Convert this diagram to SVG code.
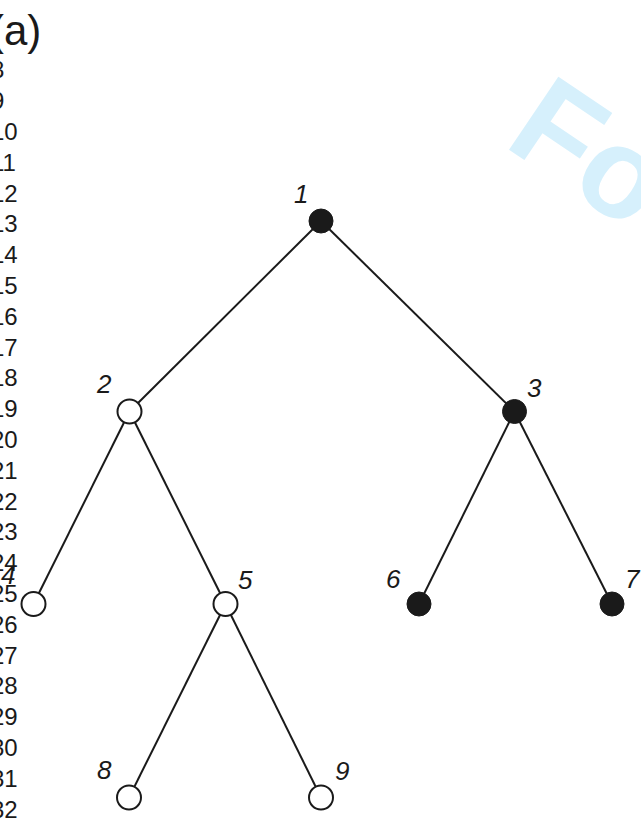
<svg xmlns="http://www.w3.org/2000/svg" width="641" height="819" viewBox="0 0 641 819">
<style>
.ln{font-family:"Liberation Sans",Arial,sans-serif;font-size:24px;fill:#1a1a1a}
.lbl{font-family:"Liberation Sans",Arial,sans-serif;font-size:26px;font-style:italic;fill:#1a1a1a}
.edge{stroke:#1a1a1a;stroke-width:2;fill:none}
.open{fill:#fff;stroke:#1a1a1a;stroke-width:2}
.fill{fill:#1a1a1a;stroke:#1a1a1a;stroke-width:1}
</style>
<rect width="641" height="819" fill="#fff"/>
<text x="502" y="145" transform="rotate(34 502 145)" font-family="Liberation Sans,Arial,sans-serif" font-weight="bold" font-size="128" fill="#d6f0fc">Fo</text>
<g id="line-numbers" class="ln">
<text x="-9" y="78">8</text>
<text x="-9" y="109">9</text>
<text x="-9" y="140">10</text>
<text x="-9" y="171">11</text>
<text x="-9" y="202">12</text>
<text x="-9" y="232">13</text>
<text x="-9" y="263">14</text>
<text x="-9" y="294">15</text>
<text x="-9" y="325">16</text>
<text x="-9" y="356">17</text>
<text x="-9" y="386">18</text>
<text x="-9" y="417">19</text>
<text x="-9" y="448">20</text>
<text x="-9" y="479">21</text>
<text x="-9" y="510">22</text>
<text x="-9" y="540">23</text>
<text x="-9" y="571">24</text>
<text x="-9" y="602">25</text>
<text x="-9" y="633">26</text>
<text x="-9" y="664">27</text>
<text x="-9" y="694">28</text>
<text x="-9" y="725">29</text>
<text x="-9" y="756">30</text>
<text x="-9" y="787">31</text>
<text x="-9" y="818">32</text>
</g>
<text x="-10" y="45" font-family="Liberation Sans,Arial,sans-serif" font-size="42" fill="#1a1a1a">(a)</text>
<g id="connectors" class="edge">
<line x1="321" y1="221" x2="129.5" y2="411.5"/>
<line x1="321" y1="221" x2="514.5" y2="411.5"/>
<line x1="129.5" y1="411.5" x2="33.5" y2="604"/>
<line x1="129.5" y1="411.5" x2="225.5" y2="604"/>
<line x1="514.5" y1="411.5" x2="419" y2="604"/>
<line x1="514.5" y1="411.5" x2="612" y2="604"/>
<line x1="225.5" y1="604" x2="129" y2="797.5"/>
<line x1="225.5" y1="604" x2="321" y2="797.5"/>
</g>
<g id="n1"><circle class="fill" cx="321" cy="221" r="12"/><text class="lbl" x="294" y="203">1</text></g>
<g id="n2"><circle class="open" cx="129.5" cy="411.5" r="12"/><text class="lbl" x="97" y="393">2</text></g>
<g id="n3"><circle class="fill" cx="514.5" cy="411.5" r="12"/><text class="lbl" x="527" y="397">3</text></g>
<g id="n4"><circle class="open" cx="33.5" cy="604" r="12"/><text class="lbl" x="1" y="584">4</text></g>
<g id="n5"><circle class="open" cx="225.5" cy="604" r="12"/><text class="lbl" x="238" y="589">5</text></g>
<g id="n6"><circle class="fill" cx="419" cy="604" r="12"/><text class="lbl" x="386" y="588">6</text></g>
<g id="n7"><circle class="fill" cx="612" cy="604" r="12"/><text class="lbl" x="625" y="588">7</text></g>
<g id="n8"><circle class="open" cx="129" cy="797.5" r="12"/><text class="lbl" x="97" y="779">8</text></g>
<g id="n9"><circle class="open" cx="321" cy="797.5" r="12"/><text class="lbl" x="335" y="780">9</text></g>
</svg>
